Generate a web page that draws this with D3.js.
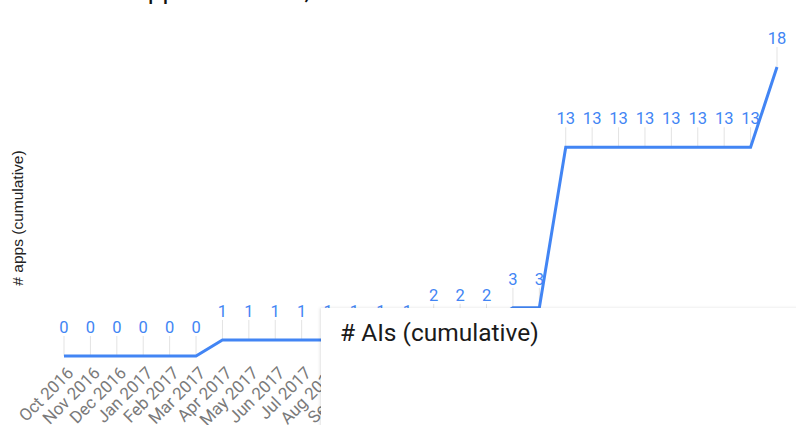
<!DOCTYPE html>
<html>
<head>
<meta charset="utf-8">
<script src="https://cdn.jsdelivr.net/npm/d3@7"></script>
<style>
  html, body { margin: 0; padding: 0; background: #fff; }
  svg { display: block; }
</style>
</head>
<body>
<svg id="chart" width="796" height="425"></svg>
<script>
// Monthly cumulative count of apps, Oct 2016 – Jan 2019
const months = [
  "Oct 2016", "Nov 2016", "Dec 2016", "Jan 2017", "Feb 2017", "Mar 2017",
  "Apr 2017", "May 2017", "Jun 2017", "Jul 2017", "Aug 2017", "Sep 2017",
  "Oct 2017", "Nov 2017", "Dec 2017", "Jan 2018", "Feb 2018", "Mar 2018",
  "Apr 2018", "May 2018", "Jun 2018", "Jul 2018", "Aug 2018", "Sep 2018",
  "Oct 2018", "Nov 2018", "Dec 2018", "Jan 2019"
];
const appsCumulative = [
  0, 0, 0, 0, 0, 0,
  1, 1, 1, 1, 1, 1,
  1, 1, 2, 2, 2, 3,
  3, 13, 13, 13, 13, 13,
  13, 13, 13, 18
];
const titleText = "Number of apps over time, cumulative";
const yTitle = "# apps (cumulative)";
const secondTitle = "# AIs (cumulative)";

const data = months.map((m, i) => ({ month: m, value: appsCumulative[i] }));

const svg = d3.select("#chart");
const blue = "#4285f4";

const x = d3.scalePoint().domain(months).range([64, 777]);
const y = d3.scaleLinear().domain([0, 18]).range([356, 67]);

// title (runs off the top edge)
svg.append("text")
  .attr("x", 4).attr("y", -1)
  .attr("font-family", "Roboto, sans-serif")
  .attr("font-size", 26)
  .attr("fill", "#111")
  .text(titleText);

// y axis title
svg.append("text")
  .attr("transform", "translate(23,218) rotate(-90)")
  .attr("text-anchor", "middle")
  .attr("font-family", "'Liberation Sans', Arial, sans-serif")
  .attr("font-size", 15.5)
  .attr("fill", "#222")
  .text(yTitle);

// x axis tick labels, slanted
const xAxis = svg.append("g")
  .attr("transform", "translate(0,366)")
  .call(d3.axisBottom(x).tickSize(0).tickPadding(0));
xAxis.select(".domain").remove();
xAxis.selectAll("text")
  .attr("font-family", "Roboto, sans-serif")
  .attr("font-size", 17)
  .attr("fill", "#7a7a7a")
  .attr("text-anchor", "end")
  .attr("dy", 0)
  .attr("y", 0)
  .attr("transform", "translate(10,8) rotate(-45)");

// annotation stems
svg.append("g").selectAll("line")
  .data(data).join("line")
  .attr("x1", d => x(d.month)).attr("x2", d => x(d.month))
  .attr("y1", d => y(d.value)).attr("y2", d => y(d.value) - 20)
  .attr("stroke", "#e3e3e3").attr("stroke-width", 1);

// series line
svg.append("path")
  .datum(data)
  .attr("fill", "none")
  .attr("stroke", blue)
  .attr("stroke-width", 3)
  .attr("stroke-linejoin", "miter")
  .attr("d", d3.line().x(d => x(d.month)).y(d => y(d.value)));

// value labels
svg.append("g").selectAll("text")
  .data(data).join("text")
  .attr("x", d => x(d.month))
  .attr("y", d => y(d.value) - 23)
  .attr("text-anchor", "middle")
  .attr("font-family", "Roboto, sans-serif")
  .attr("font-size", 16.5)
  .attr("fill", blue)
  .text(d => d.value);

// second chart card laid over the lower right
const defs = svg.append("defs");
const f = defs.append("filter").attr("id", "cardShadow")
  .attr("x", "-5%").attr("y", "-20%").attr("width", "110%").attr("height", "140%");
f.append("feDropShadow").attr("dx", -1).attr("dy", 0)
  .attr("stdDeviation", 1.5).attr("flood-color", "#000").attr("flood-opacity", 0.12);

svg.append("rect")
  .attr("x", 321).attr("y", 308)
  .attr("width", 500).attr("height", 140)
  .attr("fill", "#fff")
  .attr("filter", "url(#cardShadow)");

svg.append("text")
  .attr("x", 340).attr("y", 341)
  .attr("font-family", "Roboto, sans-serif")
  .attr("font-size", 24.5)
  .attr("fill", "#1a1a1a")
  .text(secondTitle);
</script>
</body>
</html>
